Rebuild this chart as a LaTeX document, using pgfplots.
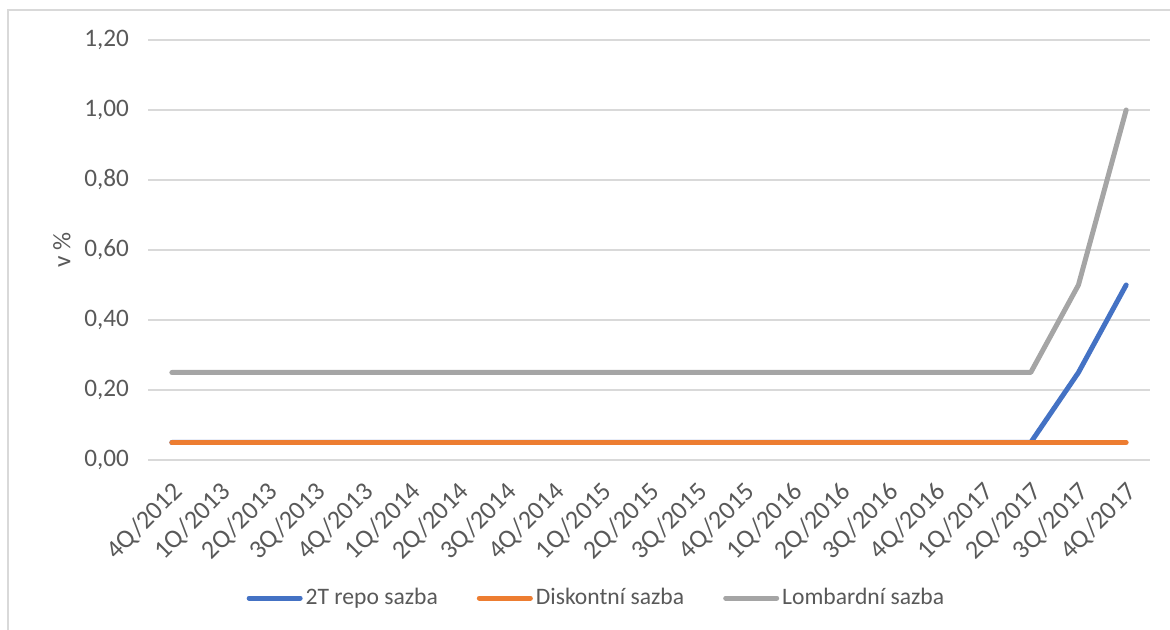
\documentclass[border=0pt]{standalone}
\usepackage{fontspec}
\setmainfont{Carlito}
\usepackage{pgfplots}
\pgfplotsset{compat=1.18}
\definecolor{cblue}{HTML}{4472C4}
\definecolor{corange}{HTML}{ED7D31}
\definecolor{cgray}{HTML}{A5A5A5}
\definecolor{cgrid}{HTML}{D9D9D9}
\definecolor{ctext}{HTML}{595959}
\begin{document}
\begin{tikzpicture}
\useasboundingbox (0,0) rectangle (585pt,315pt);
\draw[cgrid, line width=1pt] (4pt,0) -- (4pt,310pt) -- (585pt,310pt);
\begin{axis}[
  at={(74pt,85pt)}, anchor=south west,
  scale only axis, width=501pt, height=210pt,
  xmin=-0.5, xmax=20.5, ymin=0, ymax=1.2,
  xtick={0,...,20},
  xticklabels={4Q/2012,1Q/2013,2Q/2013,3Q/2013,4Q/2013,1Q/2014,2Q/2014,3Q/2014,4Q/2014,1Q/2015,2Q/2015,3Q/2015,4Q/2015,1Q/2016,2Q/2016,3Q/2016,4Q/2016,1Q/2017,2Q/2017,3Q/2017,4Q/2017},
  ytick={0,0.2,0.4,0.6,0.8,1.0,1.2},
  ymajorgrids, major grid style={cgrid, line width=1pt},
  axis line style={draw=none},
  tick style={draw=none},
  /pgf/number format/.cd, fixed, fixed zerofill, precision=2, use comma, assume math mode=true,
  /pgfplots/.cd,
  yticklabel style={font=\fontsize{12.6}{14}\selectfont, text=ctext, xshift=-6pt},
  xticklabel style={font=\fontsize{13}{15}\selectfont, text=ctext, yshift=-10pt, xshift=-0.5pt, rotate=45, anchor=north east, inner sep=0pt},
  ylabel={v \%},
  ylabel style={font=\fontsize{12.6}{14}\selectfont, text=ctext, at={(axis description cs:-0.086,0.5)}, anchor=center},
  legend columns=3,
  legend style={draw=none, at={(0.448,-0.3286)}, anchor=center, font=\fontsize{11.8}{13}\selectfont, text=ctext,
    /tikz/every even column/.append style={column sep=18pt}, nodes={inner sep=1.5pt}},
  legend image code/.code={\draw[#1, line width=2.5pt, line cap=round] (0pt,0) -- (25.5pt,0);},
  every axis plot/.append style={line width=2.5pt, line cap=round, line join=round},
  clip=false,
]
\addplot[cblue] coordinates {(0,0.05)(1,0.05)(2,0.05)(3,0.05)(4,0.05)(5,0.05)(6,0.05)(7,0.05)(8,0.05)(9,0.05)(10,0.05)(11,0.05)(12,0.05)(13,0.05)(14,0.05)(15,0.05)(16,0.05)(17,0.05)(18,0.05)(19,0.25)(20,0.50)};
\addlegendentry{2T repo sazba}
\addplot[corange] coordinates {(0,0.05)(1,0.05)(2,0.05)(3,0.05)(4,0.05)(5,0.05)(6,0.05)(7,0.05)(8,0.05)(9,0.05)(10,0.05)(11,0.05)(12,0.05)(13,0.05)(14,0.05)(15,0.05)(16,0.05)(17,0.05)(18,0.05)(19,0.05)(20,0.05)};
\addlegendentry{Diskontní sazba}
\addplot[cgray] coordinates {(0,0.25)(1,0.25)(2,0.25)(3,0.25)(4,0.25)(5,0.25)(6,0.25)(7,0.25)(8,0.25)(9,0.25)(10,0.25)(11,0.25)(12,0.25)(13,0.25)(14,0.25)(15,0.25)(16,0.25)(17,0.25)(18,0.25)(19,0.50)(20,1.00)};
\addlegendentry{Lombardní sazba}
\end{axis}
\end{tikzpicture}
\end{document}
